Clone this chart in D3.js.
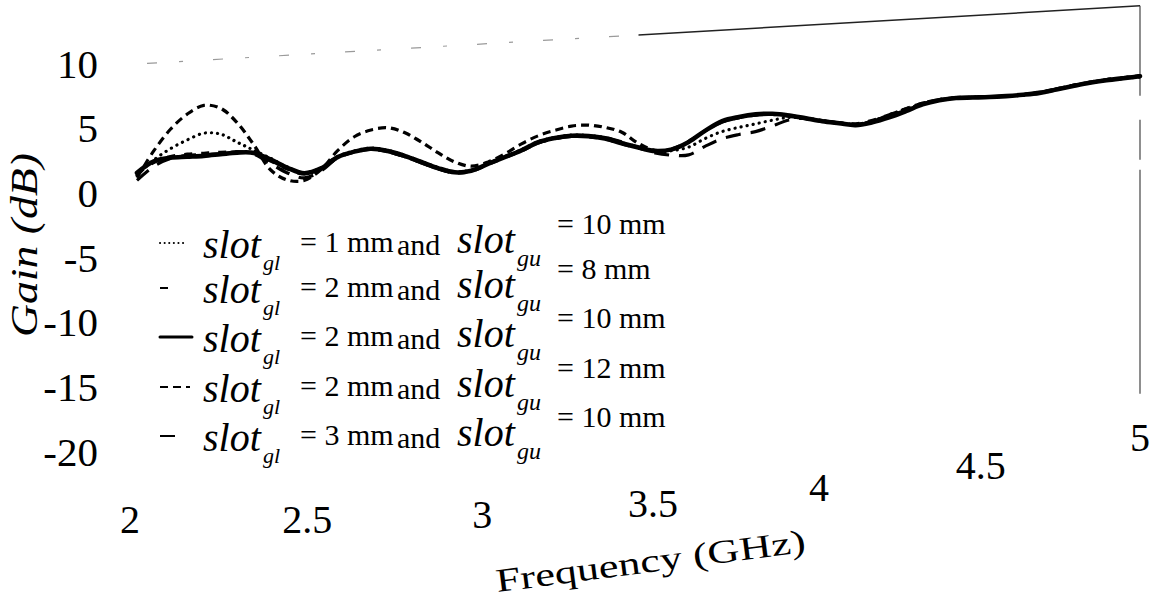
<!DOCTYPE html>
<html>
<head>
<meta charset="utf-8">
<script src="https://cdn.jsdelivr.net/npm/d3@7"></script>
<style>
  html, body { margin: 0; padding: 0; background: #fff; }
  svg { display: block; }
  text { font-family: "Liberation Serif", "Times New Roman", serif; fill: #000; }
</style>
</head>
<body>
<svg id="chart" width="1159" height="600"></svg>
<script>
// Frequency samples (GHz)
const freqGHz = [
  2.00, 2.05, 2.10, 2.15, 2.20, 2.25, 2.30, 2.35, 2.40, 2.45,
  2.50, 2.55, 2.60, 2.65, 2.70, 2.75, 2.80, 2.85, 2.90, 2.95,
  3.00, 3.05, 3.10, 3.15, 3.20, 3.25, 3.30, 3.35, 3.40, 3.45,
  3.50, 3.55, 3.60, 3.65, 3.70, 3.75, 3.80, 3.85, 3.90, 3.95,
  4.00, 4.05, 4.10, 4.15, 4.20, 4.25, 4.30, 4.35, 4.40, 4.45,
  4.50, 4.55, 4.60, 4.65, 4.70, 4.75, 4.80, 4.85, 4.90, 4.95,
  5.00
];

// Gain (dB) for each slot configuration
const gainGl1Gu10 = [
  1.4, 2.5, 3.3, 3.9, 4.35, 4.2, 3.5, 2.8, 2.1, 1.35,
  0.85, 1.15, 1.95, 2.3, 2.45, 2.2, 1.75, 1.2, 0.65, 0.25,
  0.3, 0.75, 1.2, 1.65, 2.2, 2.45, 2.55, 2.45, 2.2, 1.75,
  1.3, 0.9, 0.9, 1.1, 1.7, 2.15, 2.4, 2.6, 2.8, 2.95,
  2.8, 2.55, 2.3, 2.1, 2.3, 2.65, 3.05, 3.4, 3.6, 3.7,
  3.66, 3.62, 3.6, 3.62, 3.7, 3.88, 4.1, 4.25, 4.38, 4.45,
  4.5
];
const gainGl2Gu8 = [
  1.5, 2.3, 2.7, 2.8, 2.8, 2.8, 2.75, 2.55, 1.9, 1.2,
  0.75, 1.05, 1.85, 2.2, 2.35, 2.1, 1.65, 1.1, 0.55, 0.15,
  0.2, 0.65, 1.1, 1.55, 2.1, 2.35, 2.45, 2.35, 2.1, 1.65,
  1.25, 0.95, 1.05, 1.55, 2.3, 2.9, 3.15, 3.28, 3.25, 3.05,
  2.78, 2.5, 2.3, 2.15, 2.35, 2.7, 3.1, 3.45, 3.65, 3.72,
  3.68, 3.63, 3.63, 3.67, 3.76, 3.95, 4.15, 4.32, 4.45, 4.52,
  4.6
];
const gainGl2Gu10 = [
  1.6, 2.4, 2.6, 2.6, 2.6, 2.65, 2.7, 2.6, 2.0, 1.3,
  0.8, 1.1, 1.9, 2.25, 2.4, 2.15, 1.7, 1.15, 0.6, 0.2,
  0.25, 0.7, 1.15, 1.6, 2.15, 2.4, 2.5, 2.4, 2.15, 1.7,
  1.3, 0.95, 1.0, 1.5, 2.3, 2.95, 3.2, 3.33, 3.3, 3.1,
  2.8, 2.5, 2.27, 2.05, 2.2, 2.5, 2.9, 3.35, 3.6, 3.7,
  3.66, 3.62, 3.62, 3.65, 3.72, 3.9, 4.1, 4.28, 4.4, 4.48,
  4.55
];
const gainGl2Gu12 = [
  1.2, 3.2, 4.8, 5.9, 6.5, 6.2, 5.0, 3.2, 1.2, 0.35,
  0.25, 1.0, 2.4, 3.4, 3.85, 3.95, 3.5, 2.7, 1.8, 1.0,
  0.6, 0.85, 1.4, 2.1, 2.65, 3.0, 3.25, 3.25, 3.0, 2.55,
  1.6, 1.0, 1.0, 1.5, 2.3, 2.9, 3.15, 3.3, 3.3, 3.1,
  2.8, 2.5, 2.3, 2.1, 2.3, 2.7, 3.1, 3.45, 3.65, 3.7,
  3.66, 3.62, 3.62, 3.65, 3.75, 3.95, 4.15, 4.3, 4.4, 4.5,
  4.6
];
const gainGl3Gu10 = [
  1.0, 2.0, 2.55, 2.7, 2.7, 2.7, 2.75, 2.5, 1.7, 0.9,
  0.45, 0.9, 1.85, 2.25, 2.4, 2.1, 1.65, 1.1, 0.55, 0.2,
  0.25, 0.7, 1.15, 1.6, 2.1, 2.35, 2.45, 2.4, 2.2, 1.8,
  1.3, 0.8, 0.55, 0.5, 1.1, 1.6, 1.85, 2.0, 2.35, 2.75,
  2.8, 2.55, 2.3, 2.1, 2.3, 2.6, 3.0, 3.4, 3.62, 3.72,
  3.68, 3.64, 3.64, 3.66, 3.74, 3.92, 4.12, 4.3, 4.42, 4.5,
  4.58
];

// Legend parameters
const slotGl = ["1", "2", "2", "2", "3"];
const slotGu = ["10", "8", "10", "12", "10"];

// Axis ticks
const yTicks = [10, 5, 0, -5, -10, -15, -20];
const xTicks = [2, 2.5, 3, 3.5, 4, 4.5, 5];
const xTickLabels = ["2", "2.5", "3", "3.5", "4", "4.5", "5"];

const seriesValues = [gainGl1Gu10, gainGl2Gu8, gainGl2Gu10, gainGl2Gu12, gainGl3Gu10];

// Line styles, in legend order
const styles = [
  { dash: "0.1,6",  width: 3.2, cap: "round", sample: 27 },
  { dash: "8,9",    width: 3.2, cap: "butt",  sample: 8 },
  { dash: null,     width: 4.6, cap: "round", sample: 32 },
  { dash: "8,5",    width: 3.2, cap: "butt",  sample: 30 },
  { dash: "15,10",  width: 3.2, cap: "butt",  sample: 25 }
];

const svg = d3.select("#chart");

const x = d3.scaleLinear().domain([2, 5]).range([137, 1140]);
const y = d3.scaleLinear().domain([-20, 10]).range([452, 64]);

// The printed frame leans upward to the right
const lean = -0.058;
const x0 = x(2);

const plot = svg.append("g")
  .attr("transform", `matrix(1,${lean},0,1,0,${-lean * x0})`);

// Frame: broken faint top edge on the left, firm on the right, plus right edge
plot.append("line")
  .attr("x1", x(2.03)).attr("x2", x(3.5))
  .attr("y1", y(10)).attr("y2", y(10))
  .attr("stroke", "#9a9a9a")
  .attr("stroke-width", 1.2)
  .attr("stroke-dasharray", "10,22,4,30");

plot.append("line")
  .attr("x1", x(3.5)).attr("x2", x(5))
  .attr("y1", y(10)).attr("y2", y(10))
  .attr("stroke", "#222")
  .attr("stroke-width", 1.5);

plot.append("line")
  .attr("x1", x(5)).attr("x2", x(5))
  .attr("y1", y(10)).attr("y2", y(-20))
  .attr("stroke", "#333")
  .attr("stroke-width", 1.1)
  .attr("stroke-dasharray", "90,24,40,10,300");

// Curves
const line = d3.line()
  .x((d, i) => x(freqGHz[i]))
  .y(d => y(d))
  .curve(d3.curveCatmullRom.alpha(0.5));

const drawOrder = [4, 3, 1, 0, 2];
drawOrder.forEach(k => {
  const st = styles[k];
  plot.append("path")
    .datum(seriesValues[k])
    .attr("d", line)
    .attr("fill", "none")
    .attr("stroke", "#000")
    .attr("stroke-width", st.width)
    .attr("stroke-linecap", st.cap)
    .attr("stroke-linejoin", "round")
    .attr("stroke-dasharray", st.dash);
});

// Y axis labels
const yAxis = d3.axisLeft(y)
  .tickValues(yTicks)
  .tickFormat(d => d < 0 ? "-" + Math.abs(d) : String(d))
  .tickSize(0)
  .tickPadding(0);

const yg = svg.append("g")
  .attr("transform", "translate(98,0)")
  .call(yAxis);
yg.select(".domain").remove();
yg.selectAll("text")
  .attr("font-family", "Liberation Serif, serif")
  .attr("font-size", 41)
  .attr("fill", "#000");

// X axis labels, following the curl of the page
svg.append("g").selectAll("text")
  .data(xTicks)
  .join("text")
  .attr("x", (d) => {
    const u = (x(d) - x(2)) / (x(5) - x(2));
    return x(d) - 7 * (1 - u) + 18 * Math.sin(Math.PI * u);
  })
  .attr("y", (d) => {
    const u = (x(d) - x(2)) / (x(5) - x(2));
    return 520 + 18 * u - 100 * u * u + 13;
  })
  .attr("text-anchor", "middle")
  .attr("font-size", 40)
  .text((d, i) => xTickLabels[i]);

// Axis titles
svg.append("text")
  .attr("transform", "translate(37,245) rotate(-90)")
  .attr("text-anchor", "middle")
  .attr("font-style", "italic")
  .attr("font-size", 38)
  .attr("textLength", 184)
  .attr("lengthAdjust", "spacingAndGlyphs")
  .text("Gain (dB)");

svg.append("text")
  .attr("transform", "translate(652,572) rotate(-7.4)")
  .attr("text-anchor", "middle")
  .attr("font-size", 33)
  .attr("textLength", 312)
  .attr("lengthAdjust", "spacingAndGlyphs")
  .text("Frequency (GHz)");

// Legend
const legend = svg.append("g");
const rowY = [258, 303, 352, 402, 451];

slotGl.forEach((gl, i) => {
  const st = styles[i];
  const by = rowY[i];
  const row = legend.append("g");

  row.append("line")
    .attr("x1", 160).attr("x2", 160 + st.sample)
    .attr("y1", by - 15).attr("y2", by - 15)
    .attr("stroke", "#000")
    .attr("stroke-width", i === 2 ? 3 : 2)
    .attr("stroke-linecap", st.cap)
    .attr("stroke-dasharray", i === 0 ? "0.1,4.5" : st.dash);

  row.append("text").attr("x", 203).attr("y", by)
    .attr("font-style", "italic").attr("font-size", 40).text("slot");
  row.append("text").attr("x", 263).attr("y", by + 12)
    .attr("font-style", "italic").attr("font-size", 22).text("gl");
  row.append("text").attr("x", 300).attr("y", by - 6)
    .attr("font-size", 30).text(`= ${gl} mm`);
  row.append("text").attr("x", 397).attr("y", by - 3)
    .attr("font-size", 30).text("and");
  row.append("text").attr("x", 457).attr("y", by - 5)
    .attr("font-style", "italic").attr("font-size", 40).text("slot");
  row.append("text").attr("x", 517).attr("y", by + 8)
    .attr("font-style", "italic").attr("font-size", 24).text("gu");
  row.append("text").attr("x", 557).attr("y", by - 24)
    .attr("font-size", 30).text(`= ${slotGu[i]} mm`);
});
</script>
</body>
</html>
